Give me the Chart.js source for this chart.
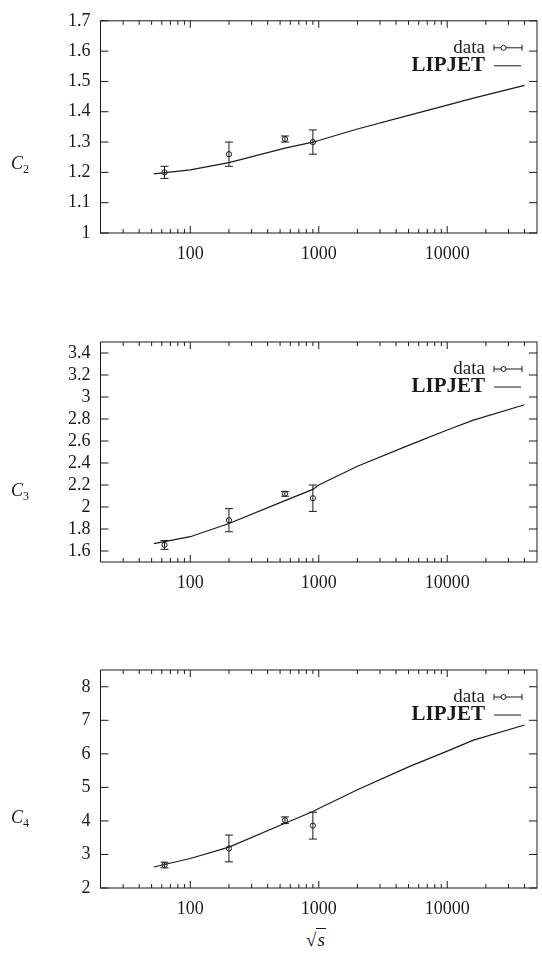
<!DOCTYPE html>
<html>
<head>
<meta charset="utf-8">
<script src="https://cdn.jsdelivr.net/npm/chart.js@4.4.1/dist/chart.umd.min.js"></script>
<style>
  html, body { margin: 0; padding: 0; background: #fff; }
  body { width: 542px; height: 953px; position: relative; overflow: hidden; font-family: "Liberation Serif", serif; color: #1a1a1a; }
  canvas { position: absolute; left: 0; }
  .ylab { position: absolute; font-family: "Liberation Serif", serif; font-style: italic; font-size: 18px; line-height: 1; }
  .ylab sub { font-style: normal; font-size: 12px; vertical-align: -4px; }
  #xlab { position: absolute; left: 306px; top: 930px; font-family: "Liberation Serif", serif; font-size: 19px; line-height: 1; }
  #xlab .s { font-style: italic; border-top: 1px solid #1a1a1a; padding: 0 1px; }
</style>
</head>
<body>
<canvas id="p1" width="542" height="273" style="top:0px"></canvas>
<canvas id="p2" width="542" height="302" style="top:300px"></canvas>
<canvas id="p3" width="542" height="308" style="top:620px"></canvas>
<div class="ylab" style="left:11px; top:154px;">C<sub>2</sub></div>
<div class="ylab" style="left:11px; top:481px;">C<sub>3</sub></div>
<div class="ylab" style="left:11px; top:808px;">C<sub>4</sub></div>
<div id="xlab">√<span class="s">s</span></div>
<script>
// ---- data ----
const energies = [63, 200, 546, 900];
const c2Data = [1.20, 1.26, 1.31, 1.30];
const c2Err  = [0.02, 0.04, 0.01, 0.04];
const c3Data = [1.655, 1.88, 2.12, 2.08];
const c3Err  = [0.04, 0.105, 0.022, 0.12];
const c4Data = [2.685, 3.18, 4.02, 3.86];
const c4Err  = [0.085, 0.40, 0.10, 0.40];

const modelEnergy = [52, 100, 200, 546, 900, 1000, 2000, 5000, 10000, 16000, 40000];
const c2Model = [1.195, 1.208, 1.232, 1.28, 1.30, 1.305, 1.343, 1.388, 1.422, 1.445, 1.487];
const c3Model = [1.667, 1.73, 1.85, 2.058, 2.16, 2.20, 2.371, 2.56, 2.70, 2.79, 2.93];
const c4Model = [2.625, 2.88, 3.22, 3.93, 4.28, 4.37, 4.93, 5.61, 6.08, 6.41, 6.86];

const xTickVals = [100, 1000, 10000];
const xTickLabels = ["100", "1000", "10000"];
const xMinorVals = [20,30,40,50,60,70,80,90,200,300,400,500,600,700,800,900,2000,3000,4000,5000,6000,7000,8000,9000,20000,30000,40000];

const c2Ticks = [1, 1.1, 1.2, 1.3, 1.4, 1.5, 1.6, 1.7];
const c2TickLabels = ["1", "1.1", "1.2", "1.3", "1.4", "1.5", "1.6", "1.7"];
const c3Ticks = [1.6, 1.8, 2, 2.2, 2.4, 2.6, 2.8, 3, 3.2, 3.4];
const c3TickLabels = ["1.6", "1.8", "2", "2.2", "2.4", "2.6", "2.8", "3", "3.2", "3.4"];
const c4Ticks = [2, 3, 4, 5, 6, 7, 8];
const c4TickLabels = ["2", "3", "4", "5", "6", "7", "8"];

const INK = '#1a1a1a';
const FONT = '"Liberation Serif", serif';

function makePanel(id, yMin, yMax, yTicks, yTickLabels, dataVals, dataErr, modelVals, padTop) {
  const decor = {
    id: 'decor' + id,
    afterDatasetsDraw(chart) {
      const ctx = chart.ctx;
      const a = chart.chartArea;
      const xs = chart.scales.x, ys = chart.scales.y;
      ctx.save();
      ctx.strokeStyle = INK;
      ctx.fillStyle = INK;
      ctx.lineWidth = 1;
      // error bars
      for (let i = 0; i < energies.length; i++) {
        const px = xs.getPixelForValue(energies[i]);
        const pt = ys.getPixelForValue(dataVals[i] + dataErr[i]);
        const pb = ys.getPixelForValue(dataVals[i] - dataErr[i]);
        ctx.beginPath();
        ctx.moveTo(px, pt); ctx.lineTo(px, pb);
        ctx.moveTo(px - 4, pt); ctx.lineTo(px + 4, pt);
        ctx.moveTo(px - 4, pb); ctx.lineTo(px + 4, pb);
        ctx.stroke();
      }
      // frame
      ctx.strokeRect(a.left, a.top, a.right - a.left, a.bottom - a.top);
      // x ticks (inward, bottom and top)
      ctx.beginPath();
      xTickVals.forEach(v => {
        const px = xs.getPixelForValue(v);
        ctx.moveTo(px, a.bottom); ctx.lineTo(px, a.bottom - 7);
        ctx.moveTo(px, a.top); ctx.lineTo(px, a.top + 7);
      });
      xMinorVals.forEach(v => {
        const px = xs.getPixelForValue(v);
        ctx.moveTo(px, a.bottom); ctx.lineTo(px, a.bottom - 4);
        ctx.moveTo(px, a.top); ctx.lineTo(px, a.top + 4);
      });
      // y ticks (inward, left and right)
      yTicks.forEach(v => {
        const py = ys.getPixelForValue(v);
        ctx.moveTo(a.left, py); ctx.lineTo(a.left + 8, py);
        ctx.moveTo(a.right, py); ctx.lineTo(a.right - 8, py);
      });
      ctx.stroke();
      // legend
      const r = a.right, t = a.top;
      ctx.textAlign = 'right';
      ctx.textBaseline = 'middle';
      ctx.font = '19px ' + FONT;
      ctx.fillText('data', r - 52, t + 27);
      ctx.beginPath();
      ctx.moveTo(r - 43, t + 27); ctx.lineTo(r - 15, t + 27);
      ctx.moveTo(r - 43, t + 24); ctx.lineTo(r - 43, t + 30);
      ctx.moveTo(r - 15, t + 24); ctx.lineTo(r - 15, t + 30);
      ctx.stroke();
      ctx.beginPath();
      ctx.fillStyle = '#fff';
      ctx.arc(r - 33.5, t + 27, 2.5, 0, Math.PI * 2);
      ctx.fill();
      ctx.stroke();
      ctx.fillStyle = INK;
      ctx.font = 'bold 21px ' + FONT;
      ctx.fillText('LIPJET', r - 52, t + 45);
      ctx.beginPath();
      ctx.moveTo(r - 43, t + 45); ctx.lineTo(r - 16, t + 45);
      ctx.stroke();
      ctx.restore();
    }
  };

  return new Chart(document.getElementById(id), {
    type: 'scatter',
    data: {
      datasets: [
        {
          label: 'LIPJET',
          data: modelEnergy.map((e, i) => ({ x: e, y: modelVals[i] })),
          showLine: true,
          borderColor: INK,
          borderWidth: 1.2,
          pointRadius: 0,
          tension: 0,
          fill: false
        },
        {
          label: 'data',
          data: energies.map((e, i) => ({ x: e, y: dataVals[i] })),
          showLine: false,
          pointStyle: 'circle',
          pointRadius: 2.6,
          borderWidth: 1,
          borderColor: INK,
          backgroundColor: '#fff'
        }
      ]
    },
    options: {
      responsive: false,
      animation: false,
      devicePixelRatio: 1,
      layout: { padding: { top: padTop, right: 1, left: 0, bottom: 0 } },
      plugins: { legend: { display: false }, tooltip: { enabled: false } },
      scales: {
        x: {
          type: 'logarithmic',
          min: 20, max: 50000,
          afterBuildTicks: s => { s.ticks = xTickVals.map(v => ({ value: v })); },
          afterFit: s => { s.height = 40; },
          ticks: {
            autoSkip: false, maxRotation: 0, padding: 10,
            color: INK, font: { family: FONT, size: 18 },
            callback: (v, i) => xTickLabels[i]
          },
          grid: { display: false, drawTicks: false },
          border: { display: false }
        },
        y: {
          type: 'linear',
          min: yMin, max: yMax,
          afterBuildTicks: s => { s.ticks = yTicks.map(v => ({ value: v })); },
          afterFit: s => { s.width = 100.5; },
          ticks: {
            autoSkip: false, padding: 10,
            color: INK, font: { family: FONT, size: 18 },
            callback: (v, i) => yTickLabels[i]
          },
          grid: { display: false, drawTicks: false },
          border: { display: false }
        }
      }
    },
    plugins: [decor]
  });
}

makePanel('p1', 1, 1.7, c2Ticks, c2TickLabels, c2Data, c2Err, c2Model, 13);
makePanel('p2', 1.5, 3.5, c3Ticks, c3TickLabels, c3Data, c3Err, c3Model, 42);
makePanel('p3', 2, 8.5, c4Ticks, c4TickLabels, c4Data, c4Err, c4Model, 50);
</script>
</body>
</html>
